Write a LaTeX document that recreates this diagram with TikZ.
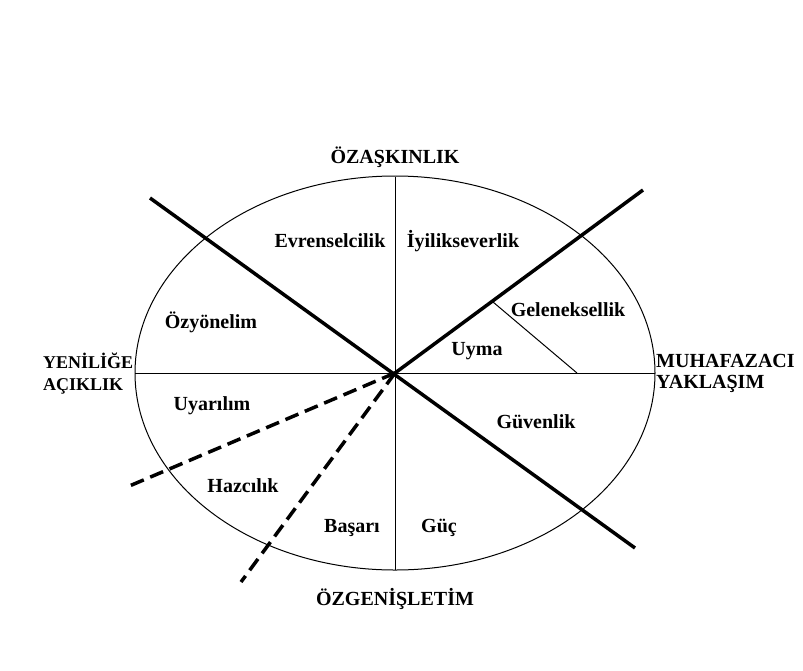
\documentclass[tikz,border=0pt]{standalone}
\usepackage{fontspec}
\setmainfont{Liberation Serif}
\begin{document}
\begin{tikzpicture}[x=1pt, y=-1pt, font=\fontsize{20}{21}\selectfont\bfseries] % pixel-like units, y downwards
\tikzstyle{thinline} = [draw=black, line width=1pt]
\tikzstyle{thickline} = [draw=black, line width=3.5pt]
\tikzstyle{dashline} = [thickline, dash pattern=on 14pt off 7pt]
\tikzstyle{value} = [text centered, inner sep=1pt]
\tikzstyle{axis} = [align=left, inner sep=1pt]

\useasboundingbox (0,0) rectangle (803,670);

% Define the centre and the end points of the lines
\coordinate (Center) at (395,373);
\coordinate (Top) at (395,177);
\coordinate (Bottom) at (395,570);
\coordinate (Left) at (135,373);
\coordinate (Right) at (655,373);
\coordinate (UpperLeft) at (150,198);
\coordinate (LowerRight) at (635,548);
\coordinate (UpperRight) at (643,190);
\coordinate (DashLeft) at (127,487);
\coordinate (DashDown) at (241,582);
\coordinate (SplitA) at (493,302);
\coordinate (SplitB) at (577,373);

% Ellipse and the two axes
\draw[thinline] (Center) ellipse [x radius=260, y radius=197];
\draw[thinline] (Top) -- (Bottom);
\draw[thinline] (Left) -- (Right);
\draw[thinline] (SplitA) -- (SplitB);

% Thick borders between the higher order values
\draw[thickline] (UpperLeft) -- (LowerRight);
\draw[thickline] (Center) -- (UpperRight);
\draw[dashline] (Center) -- (DashLeft);
\draw[dashline] (Center) -- (DashDown);

% Axis labels
\node[axis] (SelfTrans) at (395,157) {ÖZAŞKINLIK};
\node[axis] (SelfEnh) at (395,599) {ÖZGENİŞLETİM};
\node[axis, anchor=west, font=\fontsize{18}{22}\selectfont\bfseries] (Openness) at (42,374) {YENİLİĞE\\AÇIKLIK};
\node[axis, anchor=west] (Conserv) at (655,373) {MUHAFAZACI\\YAKLAŞIM};

% Value labels
\node[value] (Universalism) at (330,241) {Evrenselcilik};
\node[value] (Benevolence) at (463,241) {İyilikseverlik};
\node[value] (Tradition) at (568,310) {Geleneksellik};
\node[value] (SelfDirection) at (211,322) {Özyönelim};
\node[value] (Conformity) at (477,351) {Uyma};
\node[value] (Stimulation) at (212,406) {Uyarılım};
\node[value] (Security) at (536,422) {Güvenlik};
\node[value] (Hedonism) at (243,486) {Hazcılık};
\node[value] (Achievement) at (352,528) {Başarı};
\node[value] (Power) at (439,528) {Güç};

\end{tikzpicture}
\end{document}
